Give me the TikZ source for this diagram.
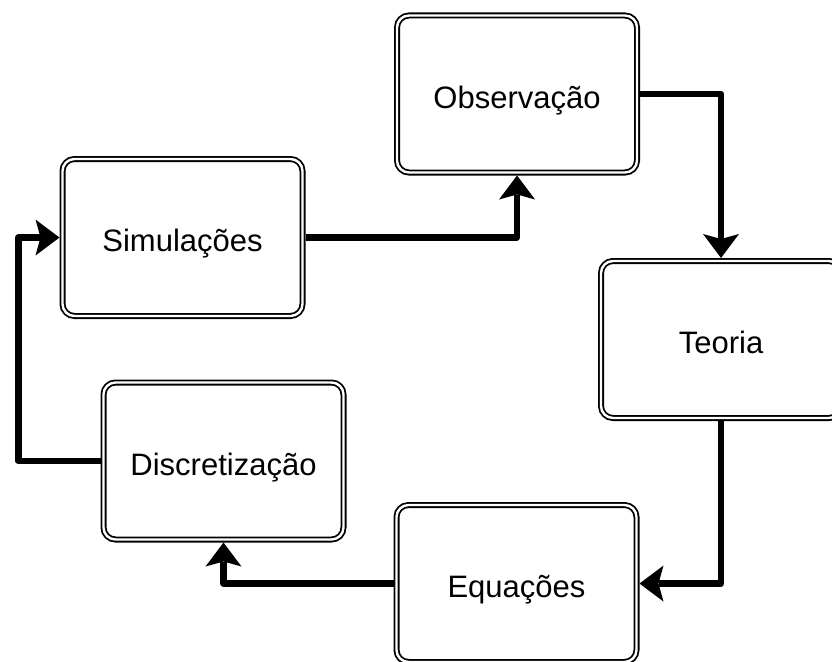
\documentclass[tikz,border=0pt]{standalone}
\usepackage{fontspec}
\setmainfont{Liberation Sans}
\usetikzlibrary{arrows.meta}

\begin{document}
\begin{tikzpicture}[
    x=1pt, y=-1pt,
    stage/.style={rectangle, draw, double, line width=1.8pt, double distance=2.4pt, rounded corners=12pt, minimum width=240pt, minimum height=157pt, outer sep=3pt, align=center, text height=28pt, text depth=0pt, font=\fontsize{31}{36}\selectfont},
    flow/.style={line width=6.5pt, line join=round, -{Stealth[length=24pt, width=36pt, inset=5pt, line width=0pt]}}
]
\clip (0,0) rectangle (832,661);

\node[stage] (obs) at (517,94) {Observação};
\node[stage] (teo) at (721,339.5) {Teoria};
\node[stage] (equ) at (516.5,583.5) {Equações};
\node[stage] (disc) at (223.5,461) {Discretização};
\node[stage] (sim) at (182.5,237.5) {Simulações};

\draw[flow] (obs.east) -| (teo.north);
\draw[flow] (teo.south) |- (equ.east);
\draw[flow] (equ.west) -| (disc.south);
\draw[flow] (disc.west) -- ++(-82,0) |- (sim.west);
\draw[flow] (sim.east) -| (obs.south);

\end{tikzpicture}
\end{document}
